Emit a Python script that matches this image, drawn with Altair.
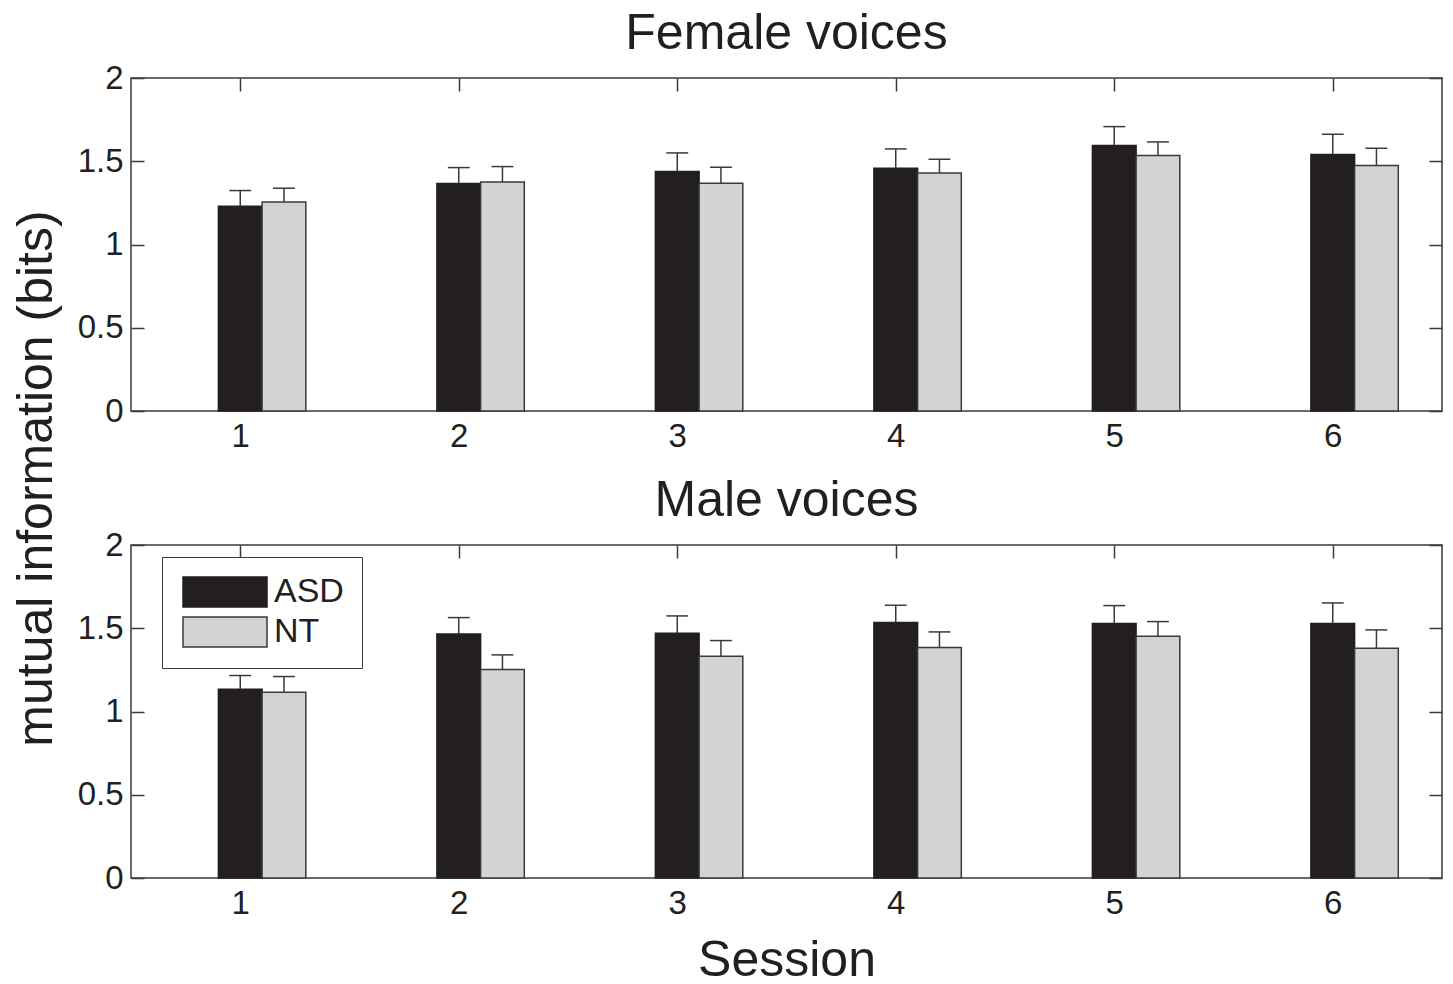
import altair as alt
import pandas as pd

# ---- data ----
sessions = [1, 2, 3, 4, 5, 6]
groups = ["ASD", "NT"]
panels = ["Female voices", "Male voices"]

female_asd = [1.230, 1.366, 1.438, 1.458, 1.594, 1.540]
female_asd_err = [0.094, 0.096, 0.112, 0.116, 0.114, 0.122]
female_nt = [1.256, 1.376, 1.368, 1.430, 1.534, 1.474]
female_nt_err = [0.082, 0.092, 0.096, 0.082, 0.082, 0.104]

male_asd = [1.134, 1.466, 1.470, 1.534, 1.528, 1.528]
male_asd_err = [0.082, 0.098, 0.104, 0.104, 0.108, 0.124]
male_nt = [1.116, 1.252, 1.332, 1.384, 1.452, 1.380]
male_nt_err = [0.094, 0.088, 0.094, 0.094, 0.088, 0.110]

y_ticks = [0, 0.5, 1, 1.5, 2]

rows = []
for name, asd, asd_e, nt, nt_e in [
    ("Female voices", female_asd, female_asd_err, female_nt, female_nt_err),
    ("Male voices", male_asd, male_asd_err, male_nt, male_nt_err),
]:
    for i, s in enumerate(sessions):
        rows.append({"panel": name, "session": s, "group": "ASD", "mean": asd[i], "err": asd_e[i]})
        rows.append({"panel": name, "session": s, "group": "NT", "mean": nt[i], "err": nt_e[i]})
df = pd.DataFrame(rows)

FONT = "Liberation Sans"
INK = "#231f20"
FRAME = "#3a3a3a"
GRAY = "#d1d3d4"

PW, PH = 1311, 333
TICK = 13


def panel(name, show_legend, xtitle, ytitle):
    base = alt.Chart(df).transform_filter(
        alt.datum.panel == name
    ).transform_calculate(
        xc="datum.session + (datum.group == 'NT' ? 0.2 : 0)"
    ).transform_calculate(
        x0="datum.xc - 0.1",
        x1="datum.xc + 0.1",
        top="datum.mean + datum.err",
        c0="datum.xc - 0.05",
        c1="datum.xc + 0.05",
    )
    xscale = alt.Scale(domain=[0.5, 6.5], nice=False, zero=False)
    yscale = alt.Scale(domain=[0, 2], nice=False)

    xaxis_kw = dict(
        orient="bottom", values=sessions, format="d", offset=-TICK, tickSize=TICK,
        tickWidth=1.5, tickColor=FRAME, domain=False, grid=False,
        labelFontSize=33, labelColor=INK, labelPadding=9,
        title=xtitle, titleFontSize=50, titleFontWeight="normal", titleColor=INK,
        titlePadding=15,
    )
    yaxis_kw = dict(
        orient="left", values=y_ticks, format="~g", offset=-TICK, tickSize=TICK,
        tickWidth=1.5, tickColor=FRAME, domain=False, grid=False,
        labelFontSize=33, labelColor=INK, labelPadding=8,
        title=ytitle, titleFontSize=50, titleFontWeight="normal", titleColor=INK,
        titlePadding=16,
    )
    if ytitle:
        yaxis_kw["titleY"] = PH + 67

    if show_legend:
        legend = alt.Legend(
            orient="none", legendX=31, legendY=12, title=None,
            symbolType="M-2.8,-1L2.8,-1L2.8,1L-2.8,1Z", symbolSize=900,
            symbolOffset=28, symbolStrokeWidth=1.5, labelFontSize=34, labelColor=INK,
            labelOffset=32, rowPadding=4, padding=18,
            strokeColor=FRAME, fillColor="white",
        )
    else:
        legend = None

    bars = base.mark_bar(strokeWidth=1.5).encode(
        x=alt.X("x0:Q", scale=xscale, axis=alt.Axis(**xaxis_kw)),
        x2="x1:Q",
        y=alt.Y("mean:Q", scale=yscale, axis=alt.Axis(**yaxis_kw)),
        y2=alt.datum(0),
        fill=alt.Fill("group:N", scale=alt.Scale(domain=groups, range=[INK, GRAY]), legend=legend),
        stroke=alt.Stroke("group:N", scale=alt.Scale(domain=groups, range=[INK, FRAME]), legend=legend),
    )
    errs = base.mark_rule(color=FRAME, strokeWidth=1.5).encode(
        x=alt.X("xc:Q", scale=xscale, axis=alt.Axis(
            orient="top", values=sessions, offset=-TICK, tickSize=TICK, tickWidth=1.5,
            tickColor=FRAME, labels=False, domain=False, grid=False, title=None)),
        y=alt.Y("mean:Q", scale=yscale, axis=alt.Axis(
            orient="right", values=y_ticks, offset=-TICK, tickSize=TICK, tickWidth=1.5,
            tickColor=FRAME, labels=False, domain=False, grid=False, title=None)),
        y2="top:Q",
    )
    caps = base.mark_rule(color=FRAME, strokeWidth=1.5).encode(
        x=alt.X("c0:Q", scale=xscale, axis=None),
        x2="c1:Q",
        y=alt.Y("top:Q", scale=yscale, axis=None),
    )
    return alt.layer(bars, errs, caps).resolve_axis(
        x="independent", y="independent"
    ).properties(
        width=PW, height=PH,
        title=alt.TitleParams(
            text=name, fontSize=50, fontWeight="normal", color=INK,
            anchor="middle", baseline="top", offset=3, frame="group",
        ),
    )


top = panel("Female voices", False, None, "mutual information (bits)")
bottom = panel("Male voices", True, "Session", None)

chart = alt.vconcat(top, bottom, spacing=134, bounds="flush").resolve_scale(
    fill="independent", stroke="independent"
).properties(
    padding={"left": 2, "top": 0, "right": 0, "bottom": 0}
).configure(font=FONT).configure_view(stroke=FRAME, strokeWidth=1.5)

chart.save("out.html", embed_options={"renderer": "svg", "actions": False})
